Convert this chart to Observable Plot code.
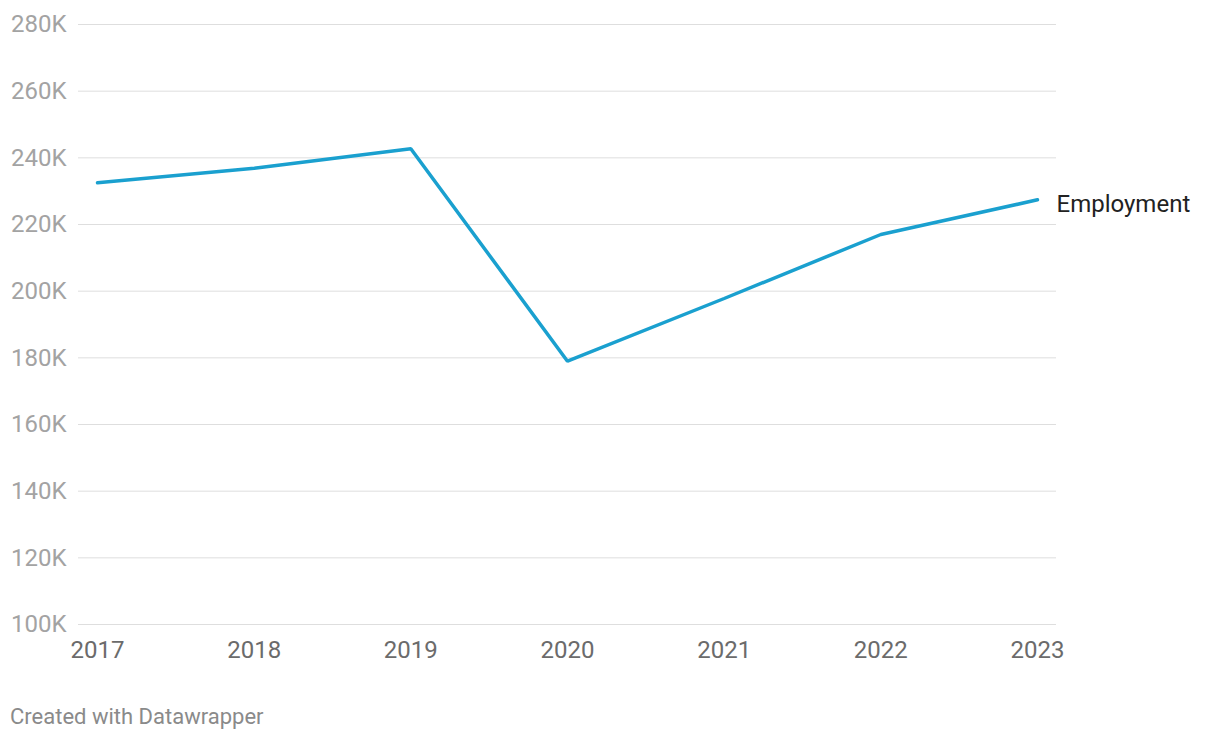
<!DOCTYPE html>
<html>
<head>
<meta charset="utf-8">
<script src="https://cdn.jsdelivr.net/npm/d3@7"></script>
<script src="https://cdn.jsdelivr.net/npm/@observablehq/plot@0.6"></script>
<style>
  html, body { margin: 0; padding: 0; background: #fff; }
  body { font-family: Roboto, "Noto Sans", sans-serif; width: 1220px; height: 740px; overflow: hidden; }
  #chart svg { display: block; }
  #caption { margin-top: 16px; padding-left: 10px; font-size: 22px; line-height: 22px; color: #8a8a8a; font-family: Roboto, sans-serif; }
</style>
</head>
<body>
<div id="chart"></div>
<div id="caption">Created with Datawrapper</div>
<script>
const years = [2017, 2018, 2019, 2020, 2021, 2022, 2023];
const employment = [232500, 236900, 242700, 179000, 197800, 217000, 227400];
const yTicks = [100000, 120000, 140000, 160000, 180000, 200000, 220000, 240000, 260000, 280000];
const seriesName = "Employment";

const data = years.map((y, i) => ({year: y, value: employment[i]}));
const last = data[data.length - 1];

const plot = Plot.plot({
  width: 1220,
  height: 690,
  marginLeft: 97,
  marginRight: 183,
  marginTop: 24,
  marginBottom: 66,
  style: {fontFamily: "Roboto, sans-serif", fontSize: "24px", background: "#fff"},
  x: {domain: [2017, 2023], type: "linear"},
  y: {domain: [100000, 280000]},
  marks: [
    Plot.ruleY(yTicks, {stroke: "#dedede", strokeWidth: 1, insetLeft: -19, insetRight: -19}),
    Plot.axisY({ticks: yTicks, tickSize: 0, tickPadding: 31, tickFormat: d => (d / 1000) + "K", fill: "#a3a3a3", fontSize: 24, label: null}),
    Plot.axisX({ticks: years, tickSize: 0, tickPadding: 16, tickFormat: d => String(d), fill: "#6b6b6b", fontSize: 24, label: null}),
    Plot.line(data, {x: "year", y: "value", stroke: "#1aa0cf", strokeWidth: 3.5, strokeLinejoin: "miter", strokeLinecap: "round"}),
    Plot.text([last], {x: "year", y: "value", text: () => seriesName, textAnchor: "start", dx: 19, dy: 4, fill: "#222", fontSize: 24})
  ]
});
document.getElementById("chart").appendChild(plot);
</script>
</body>
</html>
